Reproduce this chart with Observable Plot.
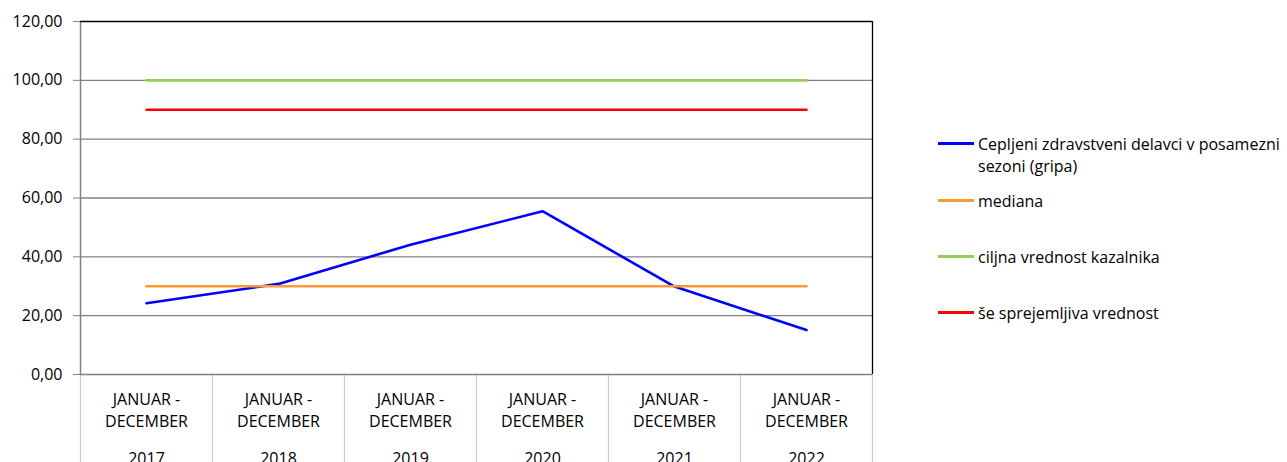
<!DOCTYPE html>
<html><head><meta charset="utf-8">
<script src="https://cdn.jsdelivr.net/npm/d3@7"></script>
<script src="https://cdn.jsdelivr.net/npm/@observablehq/plot@0.6"></script>
<style>
body{margin:0;overflow:hidden;background:#fff;font-family:"Open Sans",sans-serif}
#wrap{position:relative;width:1287px;height:462px;overflow:hidden}
.lg-line{position:absolute;left:938px;width:36px;height:3px}
.lg-text{position:absolute;left:978px;font-size:16px;line-height:22px;color:#000;white-space:nowrap}
</style></head>
<body><div id="wrap"></div>
<script>
const years = [2017, 2018, 2019, 2020, 2021, 2022];
const periodLine1 = "JANUAR -";
const periodLine2 = "DECEMBER";
const vaccinated = [24.2, 30.8, 44.1, 55.5, 29.9, 15.1];
const median = [30, 30, 30, 30, 30, 30];
const target = [100, 100, 100, 100, 100, 100];
const acceptable = [90, 90, 90, 90, 90, 90];
const yTicks = [0, 20, 40, 60, 80, 100, 120];
const seriesNames = [
  "Cepljeni zdravstveni delavci v posamezni sezoni (gripa)",
  "mediana",
  "ciljna vrednost kazalnika",
  "še sprejemljiva vrednost"
];

const colors = ["#0000FF", "#FF9933", "#92D050", "#FF0000"];
const seriesValues = [vaccinated, median, target, acceptable];
const rows = seriesValues.map(vals => years.map((y, i) => ({year: y, value: vals[i]})));
const boundaries = years.map(y => y - 0.5).concat([years[years.length - 1] + 0.5]);

const chart = Plot.plot({
  width: 1287, height: 462,
  marginLeft: 80, marginRight: 415, marginTop: 21, marginBottom: 88,
  x: {type: "linear", domain: [years[0] - 0.5, years[years.length - 1] + 0.5], axis: null},
  y: {domain: [0, 120], axis: null},
  style: {fontFamily: "'Open Sans', sans-serif", fontSize: "16px", color: "#000", background: "#fff"},
  marks: [
    Plot.ruleX(boundaries, {y1: 0, y2: -30, stroke: "#d0d0d0", strokeWidth: 1.3}),
    Plot.ruleY(yTicks.filter(t => t > 0 && t < 120), {stroke: "#808080", strokeWidth: 1.3}),
    Plot.ruleY([0], {stroke: "#808080", strokeWidth: 1.5}),
    Plot.ruleX([years[0] - 0.5], {y1: 0, y2: 120, stroke: "#808080", strokeWidth: 1.5}),
    Plot.ruleY([120], {stroke: "#000", strokeWidth: 1.3}),
    Plot.ruleX([years[years.length - 1] + 0.5], {y1: 0, y2: 120, stroke: "#000", strokeWidth: 1.3}),
    Plot.axisY(yTicks, {
      tickSize: 7, tickPadding: 11, stroke: "#808080", fill: "#000", fontSize: 16,
      tickFormat: d => d.toFixed(2).replace(".", ","), label: null
    }),
    ...rows.map((r, k) => Plot.line(r, {x: "year", y: "value", stroke: colors[k], strokeWidth: 2.6})),
    Plot.text(years, {x: d => d, y: 0, text: () => periodLine1, dy: 25, fill: "#000"}),
    Plot.text(years, {x: d => d, y: 0, text: () => periodLine2, dy: 47, fill: "#000"}),
    Plot.text(years, {x: d => d, y: 0, text: d => String(d), dy: 84, fill: "#000"})
  ]
});
const wrap = document.getElementById("wrap");
wrap.appendChild(chart);

const legendY = [143, 200, 256, 312];
seriesNames.forEach((name, k) => {
  const ln = document.createElement("div");
  ln.className = "lg-line";
  ln.style.top = (legendY[k] - 1.5) + "px";
  ln.style.background = colors[k];
  wrap.appendChild(ln);
  const tx = document.createElement("div");
  tx.className = "lg-text";
  tx.style.top = (legendY[k] - 10) + "px";
  if (k === 0) {
    tx.innerHTML = "Cepljeni zdravstveni delavci v posamezni<br>sezoni (gripa)";
  } else {
    tx.textContent = name;
  }
  wrap.appendChild(tx);
});
</script>
</body></html>
